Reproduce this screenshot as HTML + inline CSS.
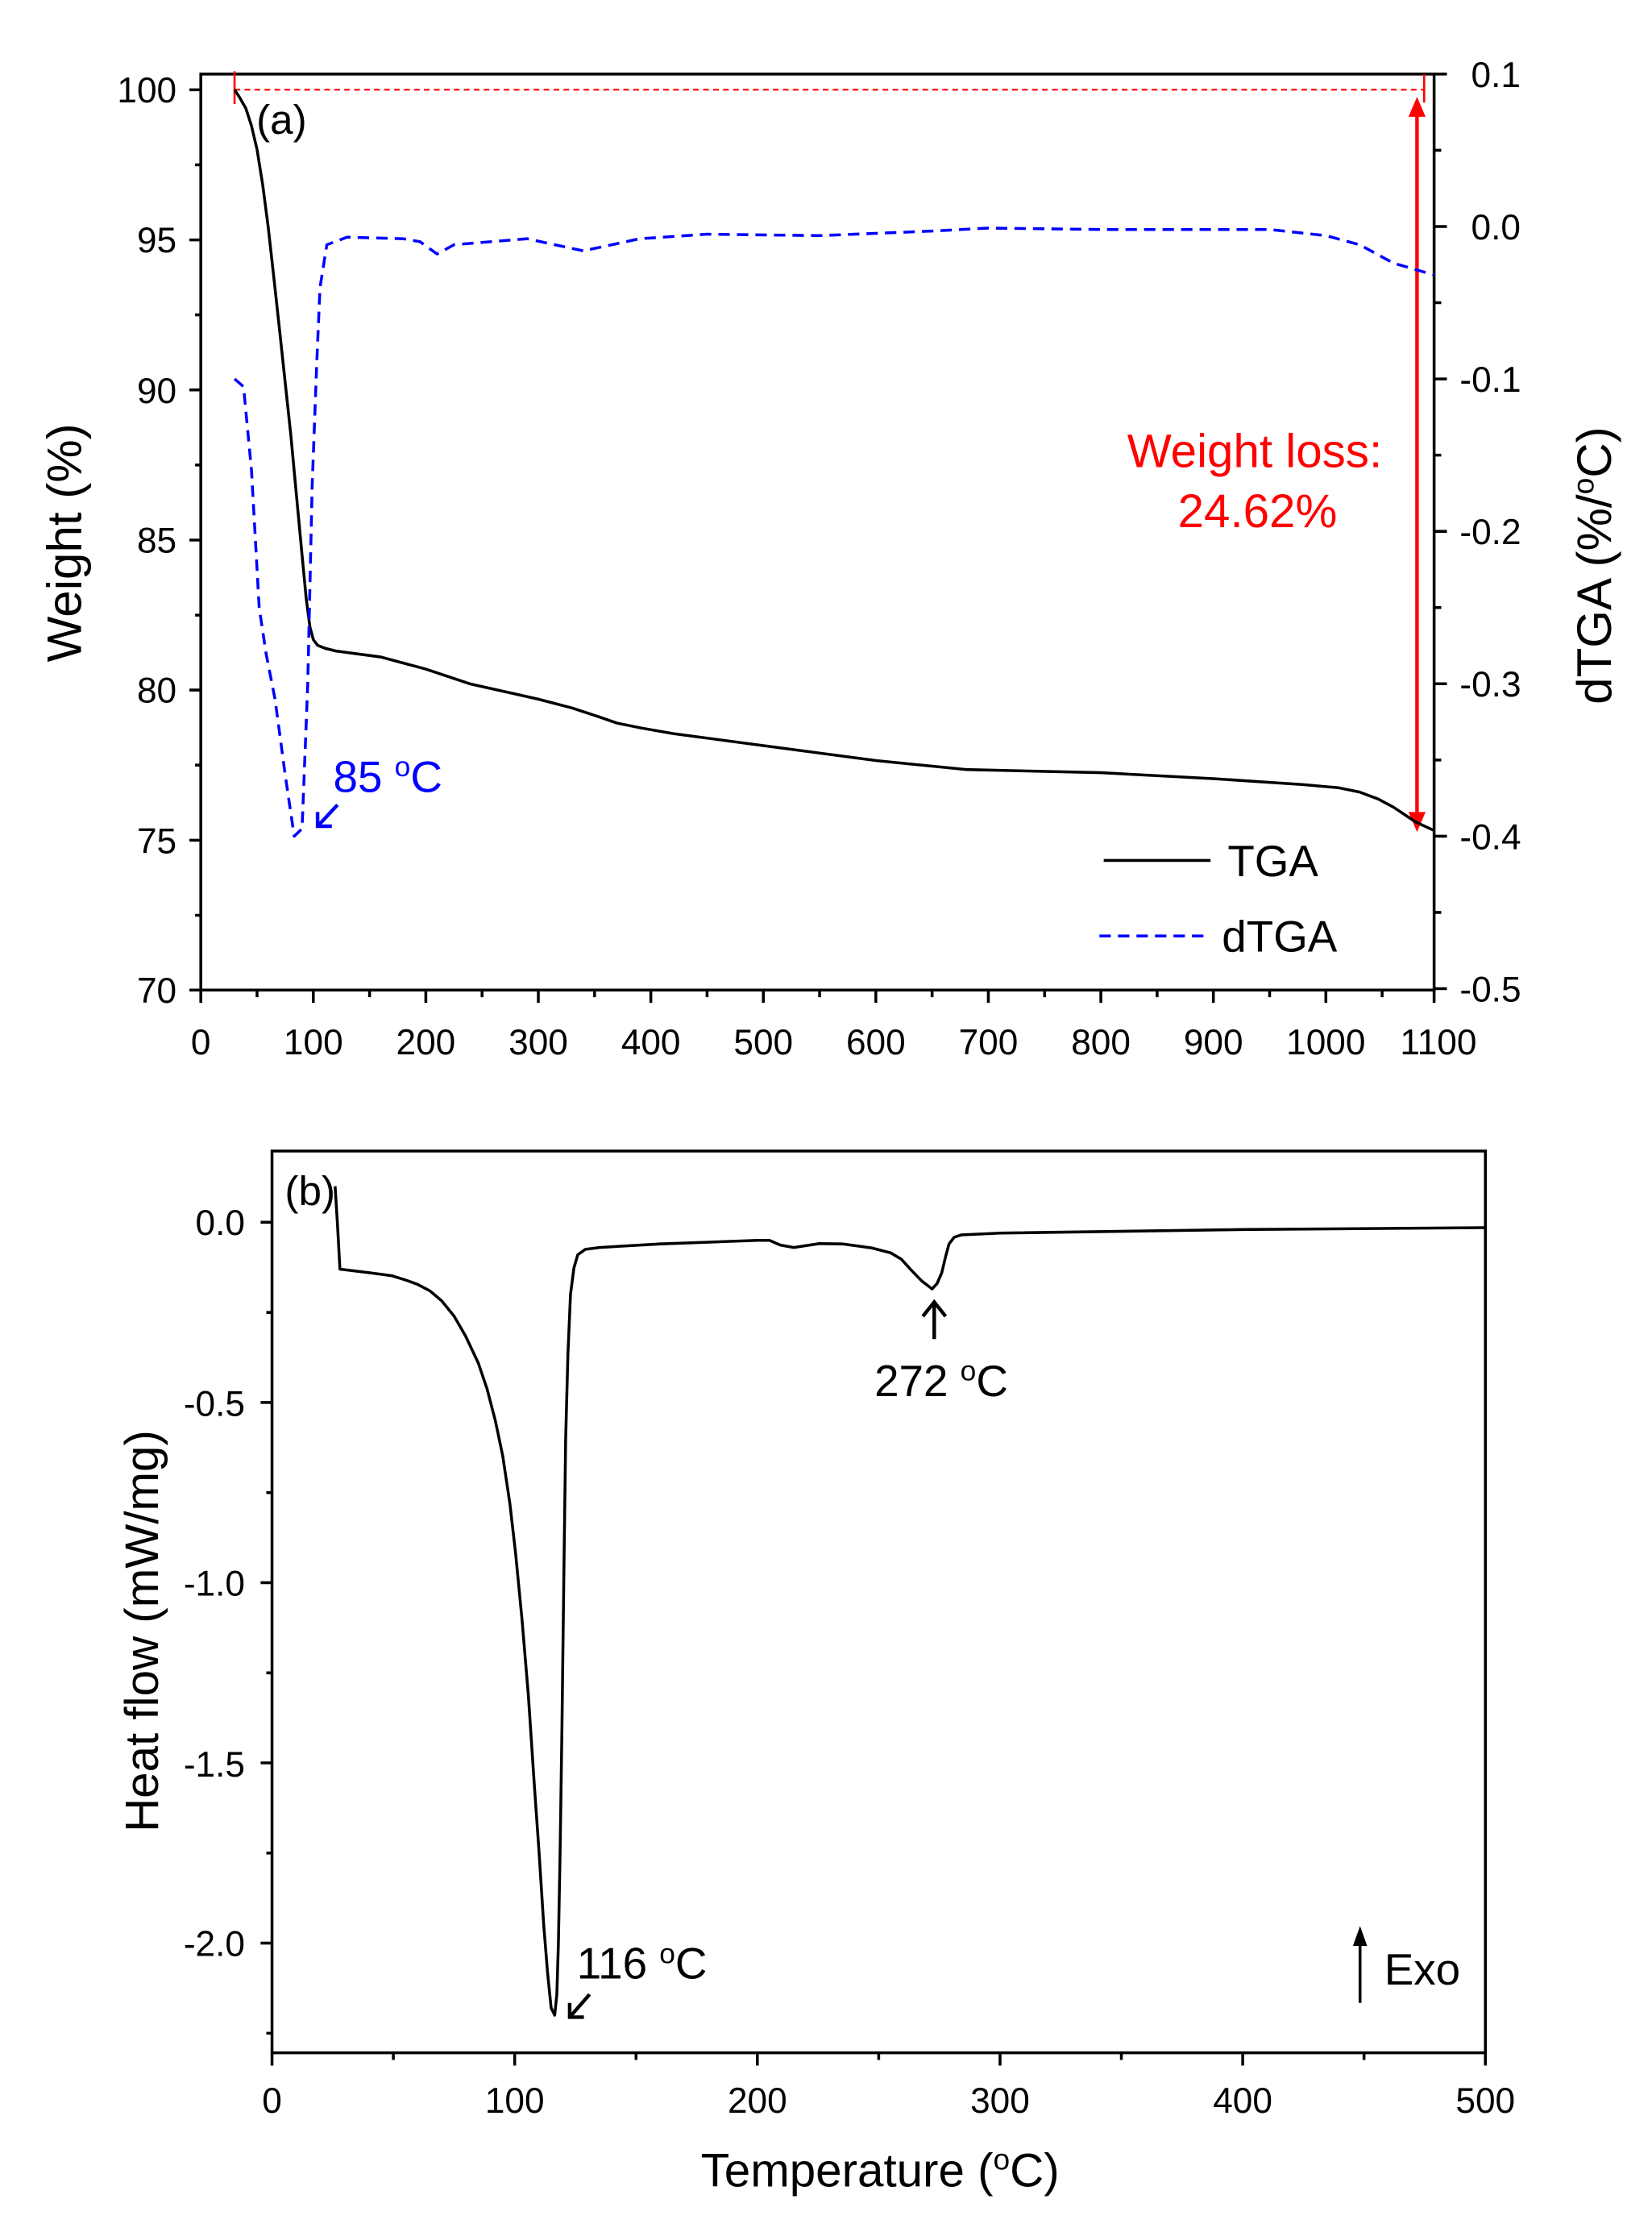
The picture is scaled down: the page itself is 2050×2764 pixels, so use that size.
<!DOCTYPE html>
<html><head><meta charset="utf-8"><style>html,body{margin:0;padding:0;background:#fff}svg{display:block}</style></head>
<body>
<svg width="2050" height="2764" viewBox="0 0 1160 1564" preserveAspectRatio="none" xmlns="http://www.w3.org/2000/svg" font-family="Liberation Sans, Arial, sans-serif">
<rect width="1160" height="1564" fill="#fff"/>
<!-- Panel a -->
<g stroke="#000" stroke-width="2" fill="none">
<rect x="141" y="52" width="866" height="643"/>
<path d="M133 63H141M133 168.4H141M133 273.7H141M133 379.1H141M133 484.4H141M133 589.8H141M133 695H141
M137 115.7H141M137 221H141M137 326.4H141M137 431.8H141M137 537.1H141M137 642.5H141"/>
<path d="M1007 52H1016M1007 159H1016M1007 266H1016M1007 373H1016M1007 480H1016M1007 587H1016M1007 694H1016
M1007 105.5H1012M1007 212.5H1012M1007 319.5H1012M1007 426.5H1012M1007 533.5H1012M1007 640.5H1012"/>
<path d="M141 695V704M220 695V704M299 695V704M378 695V704M457 695V704M536 695V704M615 695V704M694 695V704M773 695V704M852 695V704M931 695V704M1007 695V704
M180.5 695V700M259.5 695V700M338.5 695V700M417.5 695V700M496.5 695V700M575.5 695V700M654.5 695V700M733.5 695V700M812.5 695V700M891.5 695V700M970.5 695V700"/>
</g>
<g font-size="25" fill="#000" text-anchor="end">
<text x="124" y="72">100</text><text x="124" y="177">95</text><text x="124" y="283">90</text><text x="124" y="388">85</text><text x="124" y="493">80</text><text x="124" y="599">75</text><text x="124" y="704">70</text>
</g>
<g font-size="25" fill="#000" text-anchor="start">
<text x="1033" y="61">0.1</text><text x="1033" y="168">0.0</text><text x="1025" y="275">-0.1</text><text x="1025" y="382">-0.2</text><text x="1025" y="489">-0.3</text><text x="1025" y="596">-0.4</text><text x="1025" y="703">-0.5</text>
</g>
<g font-size="25" fill="#000" text-anchor="middle">
<text x="141" y="740">0</text><text x="220" y="740">100</text><text x="299" y="740">200</text><text x="378" y="740">300</text><text x="457" y="740">400</text><text x="536" y="740">500</text><text x="615" y="740">600</text><text x="694" y="740">700</text><text x="773" y="740">800</text><text x="852" y="740">900</text><text x="931" y="740">1000</text><text x="1010" y="740">1100</text>
</g>
<text transform="translate(57,381) rotate(-90)" font-size="34" text-anchor="middle">Weight (%)</text>
<text transform="translate(1131,397) rotate(-90)" font-size="34" text-anchor="middle">dTGA (%/<tspan font-size="21" dy="-12">o</tspan><tspan dy="12">C)</tspan></text>
<text x="180" y="94" font-size="29">(a)</text>
<path d="M164.7 63H1000" stroke="#f00" stroke-width="1.2" stroke-dasharray="4,3" fill="none"/>
<path d="M164.7 50V73M1000 52V72" stroke="#f00" stroke-width="1.5"/>
<path d="M995 80V574" stroke="#f00" stroke-width="2.5"/>
<path d="M995 68L989 82H1001Z M995 584L989 570H1001Z" fill="#f00"/>
<text x="881" y="328" font-size="33" fill="#f00" text-anchor="middle">Weight loss:</text>
<text x="883" y="370" font-size="33" fill="#f00" text-anchor="middle">24.62%</text>
<polyline fill="none" stroke="#000" stroke-width="2" stroke-linejoin="round" points="164.7,63 168,68 172.6,76 176.5,88 180.5,105 184.5,130 188.4,160 192.3,195 196.3,231.6 200.2,268 204.2,305.3 208.1,347 212.1,389.6 215,420 217.6,440 220,449 223,453 228,455 235.8,457 267.4,461.2 299,469.7 330.6,480.2 378,490.8 401.7,497 420,503 433.3,507.6 450,511 472.8,515 536,523.4 615,533.9 678.2,540.2 773,542.4 852,546.6 915.2,550.8 940,553 954.7,556 968,561 978.4,566.6 988,573 994.2,577.1 1007,583"/>
<polyline fill="none" stroke="#00f" stroke-width="2" stroke-dasharray="8,5" stroke-linejoin="round" points="164.7,266 171,271.4 176.6,330.2 182,426.5 186.8,458.6 193.1,490.7 200.3,544.2 206.6,587 212.1,581.7 216.1,480 219.2,340.9 222.4,255.3 224.7,201.8 229.5,171.8 243.7,166.5 283.2,167.6 295,169.7 306.9,178.3 318.8,171.8 370.1,167.6 409.6,176.1 449.1,167.6 496.5,164.4 575.5,165.4 654.5,162.2 694,160.1 773,161.1 891.5,161.1 931,165.4 954.7,171.8 978.4,184.7 1007,193"/>
<text x="234" y="556" font-size="31" fill="#00f">85 <tspan font-size="20" dy="-11">o</tspan><tspan dy="11">C</tspan></text>
<path d="M237 565L223 580M223 570V580H233" stroke="#00f" stroke-width="2.5" fill="none"/>
<path d="M775 604H850" stroke="#000" stroke-width="2"/>
<text x="862" y="615" font-size="31">TGA</text>
<path d="M772 657H847" stroke="#00f" stroke-width="2" stroke-dasharray="8,5"/>
<text x="858" y="668" font-size="31">dTGA</text>

<!-- Panel b -->
<g stroke="#000" stroke-width="2" fill="none">
<rect x="191" y="808" width="852" height="633"/>
<path d="M183 858H191M183 984.5H191M183 1111H191M183 1237.5H191M183 1364H191
M187 921.3H191M187 1047.8H191M187 1174.3H191M187 1300.8H191M187 1427.3H191"/>
<path d="M191 1441V1450M361.4 1441V1450M531.8 1441V1450M702.2 1441V1450M872.6 1441V1450M1043 1441V1450
M276.2 1441V1446M446.6 1441V1446M617 1441V1446M787.4 1441V1446M957.8 1441V1446"/>
</g>
<g font-size="25" fill="#000" text-anchor="end">
<text x="172" y="867">0.0</text><text x="172" y="994">-0.5</text><text x="172" y="1120">-1.0</text><text x="172" y="1247">-1.5</text><text x="172" y="1373">-2.0</text>
</g>
<g font-size="25" fill="#000" text-anchor="middle">
<text x="191" y="1483">0</text><text x="361.4" y="1483">100</text><text x="531.8" y="1483">200</text><text x="702.2" y="1483">300</text><text x="872.6" y="1483">400</text><text x="1043" y="1483">500</text>
</g>
<text transform="translate(111,1145) rotate(-90)" font-size="33" text-anchor="middle">Heat flow (mW/mg)</text>
<text x="618" y="1535" font-size="33" text-anchor="middle">Temperature (<tspan font-size="21" dy="-12">o</tspan><tspan dy="12">C)</tspan></text>
<text x="200" y="846" font-size="29">(b)</text>
<polyline fill="none" stroke="#000" stroke-width="2" stroke-linejoin="round" points="235.3,832.7 237,860 238.7,890.9 259.2,893.4 275,895.5 284.7,898.5 293,901.5 301.8,906.1 310,913 318.8,923.8 327,938 335.8,956.7 342,975 347.8,997.2 353,1022 358,1055.3 362,1090 366.5,1136.3 371,1190 375,1250.2 378.5,1300 381.8,1351.4 384.5,1385 387,1409.5 389.5,1414.6 391,1400 392.1,1364 393.3,1300 394.6,1212.2 396,1100 397.2,1009.8 398.8,950 400.6,908.6 403,890 405.7,880.8 411,877 421,875.7 463.6,873.2 531.8,870.7 540.3,870.7 548,874 557.4,875.7 575,873 591.4,873.2 612,876 625.5,879.5 633,884 639.2,890.9 647,899 654.5,904.8 658,901 661.3,893.4 664,882 666.4,873.2 670,868.5 674.9,866.9 702.2,865.6 872.6,863.1 1043,861.8"/>
<text x="405" y="1389" font-size="31">116 <tspan font-size="20" dy="-11">o</tspan><tspan dy="11">C</tspan></text>
<path d="M414 1400L400 1416M400 1406V1416H410" stroke="#000" stroke-width="2.5" fill="none"/>
<path d="M656 940V914M648 924L656 914L664 924" stroke="#000" stroke-width="2.5" fill="none"/>
<text x="614" y="980" font-size="31">272 <tspan font-size="20" dy="-11">o</tspan><tspan dy="11">C</tspan></text>
<path d="M955 1406V1362" stroke="#000" stroke-width="2"/>
<path d="M955 1352L950 1366H960Z" fill="#000"/>
<text x="972" y="1393" font-size="31">Exo</text>
</svg>
</body></html>
